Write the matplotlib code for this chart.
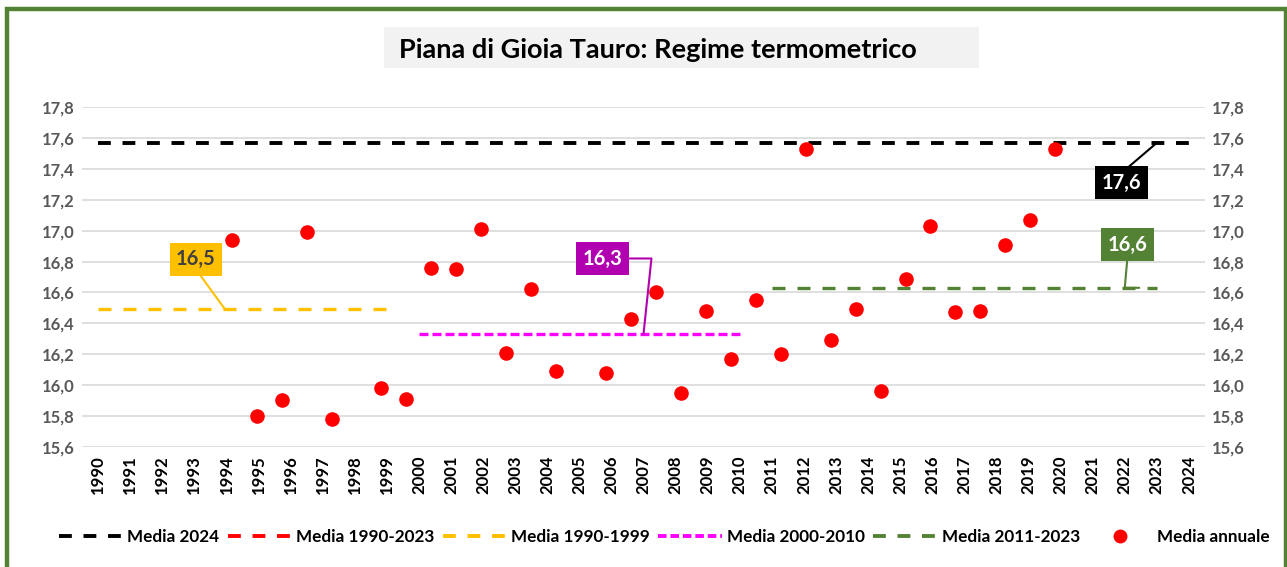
import numpy as np
import matplotlib
matplotlib.use("Agg")
import matplotlib.pyplot as plt
from matplotlib.lines import Line2D
from matplotlib.patches import Rectangle

plt.rcParams['font.family'] = ['Lato', 'DejaVu Sans']
plt.rcParams['font.weight'] = 'bold'

# Anni sull'asse delle categorie
anni_asse = [str(a) for a in range(1990, 2025)]

# Media annuale (serie su asse secondario, come nel grafico Excel)
anni_media = list(range(1990, 2024))
media_annuale = [16.94, 15.80, 15.90, 16.99, 15.78, np.nan, 15.98, 15.91, 16.76, 16.75,
                 17.01, 16.21, 16.62, 16.09, np.nan, 16.08, 16.43, 16.60, 15.95, 16.48,
                 16.17, 16.55, 16.20, 17.53, 16.29, 16.49, 15.96, 16.69, 17.03, 16.47,
                 16.48, 16.91, 17.07, 17.53]

# Medie di periodo
media_2024 = 17.57
media_1990_1999 = 16.49
media_2000_2010 = 16.33
media_2011_2023 = 16.63

fig = plt.figure(figsize=(12.87, 5.67), dpi=100)
ax = fig.add_axes([82/1287, 1-446.7/567, 1123/1287, 339.4/567])

idx = {a: i for i, a in enumerate(range(1990, 2025))}

# linee di media
ax.plot([idx[1990], idx[2024]], [media_2024] * 2, color='black', lw=2.8,
        linestyle=(0, (3.3, 3.0)), zorder=3)
ax.plot([idx[1990], idx[1999]], [media_1990_1999] * 2, color='#FFC000', lw=2.4,
        linestyle=(0, (3.9, 3.6)), zorder=3)
ax.plot([idx[2000], idx[2010]], [media_2000_2010] * 2, color='#FF00FF', lw=2.4,
        linestyle=(0, (2.7, 1.2)), zorder=3)
ax.plot([idx[2011], idx[2023]], [media_2011_2023] * 2, color='#548235', lw=2.4,
        linestyle=(0, (3.9, 3.6)), zorder=3)

ax.set_xlim(-0.5, 34.5)
ax.set_ylim(15.6, 17.8)
ax.set_xticks(range(len(anni_asse)))
ax.set_xticklabels(anni_asse, rotation=90, fontsize=12, fontweight='bold', color='black')
yt = np.round(np.arange(15.6, 17.81, 0.2), 1)
ax.set_yticks(yt)
ax.set_yticklabels([f"{v:.1f}".replace('.', ',') for v in yt], fontsize=12,
                   fontweight='bold', color='#595959')
ax.tick_params(axis='both', length=0)
ax.tick_params(axis='y', labelright=True, pad=5)
ax.tick_params(axis='x', pad=6)
ax.grid(axis='y', color='#D9D9D9', lw=1.2)
ax.set_axisbelow(True)
for s in ax.spines.values():
    s.set_visible(False)

# serie annuale su asse x secondario
ax2 = ax.twiny()
ax2.plot(range(len(anni_media)), media_annuale, 'o', color='#FF0000', ms=10.5,
         markeredgewidth=0, zorder=4)
ax2.set_xlim(-6, 39)
ax2.set_xticks([])
for s in ax2.spines.values():
    s.set_visible(False)

# etichette dati
lab = dict(fontsize=14.5, fontweight='bold', ha='center', va='center')
ax.annotate('16,5', xy=(idx[1994] - 0.04, media_1990_1999), xytext=(3.05, 16.815),
            color='#404040', bbox=dict(boxstyle='square,pad=0.32', fc='#FFC000', ec='none'),
            arrowprops=dict(arrowstyle='-', color='#FFC000', lw=1.5, relpos=(0.5, 0),
                            shrinkA=0, shrinkB=0), **lab)
ax.annotate('16,3', xy=(idx[2007], media_2000_2010), xytext=(15.73, 16.82),
            color='white', bbox=dict(boxstyle='square,pad=0.32', fc='#B000B0', ec='none'),
            arrowprops=dict(arrowstyle='-', color='#B000B0', lw=1.5, relpos=(1, 0.5),
                            connectionstyle='angle,angleA=0,angleB=84,rad=0',
                            shrinkA=0, shrinkB=0), **lab)
ax.annotate('17,6', xy=(idx[2023], media_2024), xytext=(31.9, 17.31),
            color='white', bbox=dict(boxstyle='square,pad=0.32', fc='black', ec='none'),
            arrowprops=dict(arrowstyle='-', color='black', lw=1.5, relpos=(0.5, 1),
                            shrinkA=0, shrinkB=0), **lab)
ax.annotate('16,6', xy=(32.45, media_2011_2023), xytext=(32.09, 16.91),
            color='white', bbox=dict(boxstyle='square,pad=0.32', fc='#548235', ec='none'),
            arrowprops=dict(arrowstyle='-', color='#548235', lw=1.5, relpos=(0.5, 0),
                            connectionstyle='angle,angleA=-95,angleB=0,rad=0',
                            shrinkA=0, shrinkB=0), **lab)

# titolo
fig.patches.append(Rectangle((384/1287, 1-68/567), 595/1287, 41/567,
                             transform=fig.transFigure, fc='#F2F2F2', ec='none', zorder=0))
fig.text(658/1287, 1-50/567, 'Piana di Gioia Tauro: Regime termometrico',
         ha='center', va='center', fontsize=19.5, fontweight='bold', color='black')

# legenda
handles = [
    Line2D([], [], color='black', lw=2.8, linestyle=(0, (3.3, 3.0))),
    Line2D([], [], color='#FF0000', lw=2.8, linestyle=(0, (3.3, 3.0))),
    Line2D([], [], color='#FFC000', lw=2.8, linestyle=(0, (3.3, 3.0))),
    Line2D([], [], color='#FF00FF', lw=2.8, linestyle=(0, (2.2, 1.0))),
    Line2D([], [], color='#548235', lw=2.8, linestyle=(0, (3.3, 3.0))),
    Line2D([], [], color='#FF0000', marker='o', ms=10, lw=0, markeredgewidth=0),
]
labels = ['Media 2024', 'Media 1990-2023', 'Media 1990-1999', 'Media 2000-2010',
          'Media 2011-2023', 'Media annuale']
fig.legend(handles, labels, loc='center', bbox_to_anchor=(664/1287, 1-537/567), ncol=6,
           frameon=False, handlelength=3.7, handletextpad=0.3,
           columnspacing=0.5, prop={'weight': 'bold', 'size': 12.3})

# bordo verde
fig.patches.append(Rectangle((6.5/1287, -0.05), 1279/1287, 1.05 - 9/567,
                             transform=fig.transFigure, fill=False, ec='#548235', lw=3.2))

fig.savefig('out.png', dpi=100)
